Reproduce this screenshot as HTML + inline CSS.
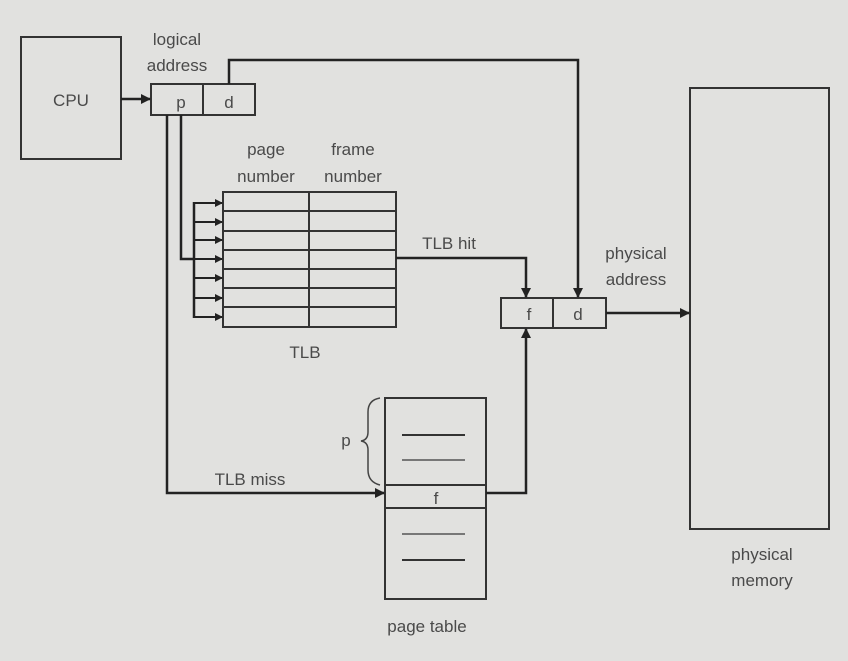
<!DOCTYPE html>
<html><head><meta charset="utf-8"><style>
html,body{margin:0;padding:0;background:#e1e1df;}
svg{display:block;}
text{font-family:"Liberation Sans",sans-serif;fill:#4a4a4a;font-size:17px;}
</style></head><body>
<svg width="848" height="661" viewBox="0 0 848 661" xmlns="http://www.w3.org/2000/svg">
<defs>
<marker id="a" markerWidth="10" markerHeight="10" refX="9" refY="5" orient="auto" markerUnits="userSpaceOnUse">
<path d="M0,0 L10,5 L0,10 z" fill="#222"/></marker>
<marker id="s" markerWidth="8" markerHeight="8" refX="7" refY="4" orient="auto" markerUnits="userSpaceOnUse">
<path d="M0,0 L8,4 L0,8 z" fill="#222"/></marker>
</defs>
<g fill="none" stroke="#333" stroke-width="2">
<rect x="21" y="37" width="100" height="122"/>
<rect x="151" y="84" width="104" height="31"/>
<line x1="203" y1="84" x2="203" y2="115"/>
<rect x="223" y="192" width="173" height="135"/>
<line x1="309" y1="192" x2="309" y2="327"/>
<line x1="223" y1="211" x2="396" y2="211"/>
<line x1="223" y1="231" x2="396" y2="231"/>
<line x1="223" y1="250" x2="396" y2="250"/>
<line x1="223" y1="269" x2="396" y2="269"/>
<line x1="223" y1="288" x2="396" y2="288"/>
<line x1="223" y1="307" x2="396" y2="307"/>
<rect x="501" y="298" width="105" height="30"/>
<line x1="553" y1="298" x2="553" y2="328"/>
<rect x="690" y="88" width="139" height="441"/>
<rect x="385" y="398" width="101" height="201"/>
<line x1="385" y1="485" x2="486" y2="485"/>
<line x1="385" y1="508" x2="486" y2="508"/>
</g>
<g stroke="#333" stroke-width="2">
<line x1="402" y1="435" x2="465" y2="435"/>
<line x1="402" y1="460" x2="465" y2="460" stroke="#777"/>
<line x1="402" y1="534" x2="465" y2="534" stroke="#777"/>
<line x1="402" y1="560" x2="465" y2="560"/>
</g>
<g fill="none" stroke="#222" stroke-width="2.5">
<line x1="121" y1="99" x2="150" y2="99" marker-end="url(#a)"/>
<polyline points="229,84 229,60 578,60 578,297" marker-end="url(#a)"/>
<polyline points="396,258 526,258 526,297" marker-end="url(#a)"/>
<line x1="606" y1="313" x2="689" y2="313" marker-end="url(#a)"/>
<polyline points="167,115 167,493 384,493" marker-end="url(#a)"/>
<polyline points="486,493 526,493 526,329" marker-end="url(#a)"/>
<polyline points="181,115 181,259 194,259"/>
<line x1="194" y1="202" x2="194" y2="318"/>
</g>
<g stroke="#222" stroke-width="2">
<line x1="194" y1="203" x2="222" y2="203" marker-end="url(#s)"/>
<line x1="194" y1="222" x2="222" y2="222" marker-end="url(#s)"/>
<line x1="194" y1="240" x2="222" y2="240" marker-end="url(#s)"/>
<line x1="194" y1="259" x2="222" y2="259" marker-end="url(#s)"/>
<line x1="194" y1="278" x2="222" y2="278" marker-end="url(#s)"/>
<line x1="194" y1="298" x2="222" y2="298" marker-end="url(#s)"/>
<line x1="194" y1="317" x2="222" y2="317" marker-end="url(#s)"/>
</g>
<path d="M380,398 Q368,400 368,412 L368,432 Q368,440 361,441 Q368,442 368,450 L368,470 Q368,482 380,485" fill="none" stroke="#444" stroke-width="1.5"/>
<text x="71" y="106" text-anchor="middle" font-size="18">CPU</text>
<text x="177" y="45" text-anchor="middle">logical</text>
<text x="177" y="71" text-anchor="middle">address</text>
<text x="181" y="108" text-anchor="middle">p</text>
<text x="229" y="108" text-anchor="middle">d</text>
<text x="266" y="155" text-anchor="middle">page</text>
<text x="266" y="182" text-anchor="middle">number</text>
<text x="353" y="155" text-anchor="middle">frame</text>
<text x="353" y="182" text-anchor="middle">number</text>
<text x="449" y="249" text-anchor="middle">TLB hit</text>
<text x="305" y="358" text-anchor="middle">TLB</text>
<text x="636" y="259" text-anchor="middle">physical</text>
<text x="636" y="285" text-anchor="middle">address</text>
<text x="529" y="320" text-anchor="middle">f</text>
<text x="578" y="320" text-anchor="middle">d</text>
<text x="346" y="446" text-anchor="middle">p</text>
<text x="250" y="485" text-anchor="middle">TLB miss</text>
<text x="436" y="504" text-anchor="middle" font-size="14">f</text>
<text x="762" y="560" text-anchor="middle">physical</text>
<text x="762" y="586" text-anchor="middle">memory</text>
<text x="427" y="632" text-anchor="middle">page table</text>
</svg>
</body></html>
